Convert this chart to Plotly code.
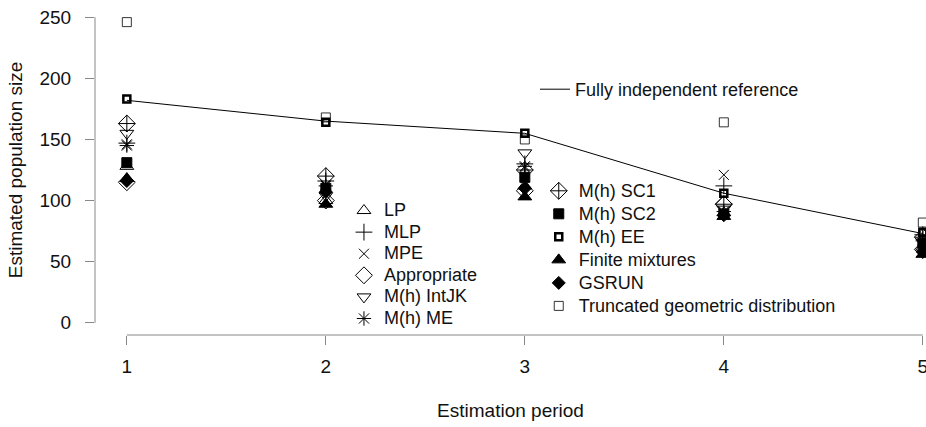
import plotly.graph_objects as go

periods = [1, 2, 3, 4, 5]
reference = [182, 165, 155, 106, 73]

lp = [128, 100, 112, 90, 62]
mlp = [147, 116, 130, 112, 72]
mpe = [146, 113, 127, 121, 68]
appropriate = [115, 100, 108, 97, 60]
intjk = [155, 104, 139, 93, 66]
me = [145, 112, 128, 91, 67]

sc1 = [163, 120, 125, 97, 70]
sc2 = [131, 110, 119, 89, 65]
ee = [183, 164, 155, 106, 74]
finite = [118, 97, 103, 87, 56]
gsrun = [116, 107, 110, 88, 58]
truncgeo = [246, 168, 150, 164, 82]

y_ticks = [0, 50, 100, 150, 200, 250]

FONT = "Liberation Sans, Arial, sans-serif"
fig = go.Figure()


def big(label):
    return "<span style='font-size:18px'>" + label + "</span>"


fig.add_trace(go.Scatter(x=periods, y=reference, mode="lines", name=big("Fully independent reference"),
                         line=dict(color="black", width=1), legend="legend", cliponaxis=False))


def pts(name, vals, symbol, size, legend, lw=1.0):
    fig.add_trace(go.Scatter(
        x=periods, y=vals, mode="markers", name=big(name), legend=legend, cliponaxis=False,
        marker=dict(symbol=symbol, size=size, color="black",
                    line=dict(color="black", width=lw))))


pts("LP", lp, "triangle-up-open", 12, "legend2")
pts("MLP", mlp, "cross-thin-open", 12, "legend2")
pts("MPE", mpe, "x-thin-open", 10, "legend2")
pts("Appropriate", appropriate, "diamond-open", 13, "legend2")
pts("M(h) IntJK", intjk, "triangle-down-open", 12, "legend2")
pts("M(h) ME", me, "asterisk-open", 12, "legend2")

pts("M(h) SC1", sc1, "diamond-cross-open", 13, "legend3")
pts("M(h) SC2", sc2, "square", 10, "legend3")
pts("M(h) EE", ee, "square-open", 7, "legend3", lw=2.5)
pts("Finite mixtures", finite, "triangle-up", 12, "legend3")
pts("GSRUN", gsrun, "diamond", 10, "legend3")
pts("Truncated geometric distribution", truncgeo, "square-open", 9, "legend3", lw=0.8)


def leg(x, y, size):
    return dict(x=x, y=y, bgcolor="rgba(0,0,0,0)", borderwidth=0, xanchor="left", yanchor="top",
                font=dict(family=FONT, size=size, color="#111"), tracegroupgap=0, itemwidth=30)


axis_col = "#888"
fig.update_layout(
    width=926, height=427,
    margin=dict(l=95, r=0, t=5, b=92, autoexpand=False),
    paper_bgcolor="white", plot_bgcolor="white",
    font=dict(family=FONT, size=19, color="#111"),
    showlegend=True,
    legend=leg(0.5295, 0.80, 18),
    legend2=leg(0.2996, 0.425, 14.3),
    legend3=leg(0.534, 0.487, 15.4),
    xaxis=dict(range=[0.84, 5.016], tickmode="array", tickvals=periods, ticktext=[str(p) for p in periods],
               showgrid=False, zeroline=False, showline=False, ticks="outside", ticklen=9,
               tickcolor=axis_col, ticklabelstandoff=5, automargin=False, ticklabeloverflow="allow",
               title=dict(text="Estimation period", standoff=27, font=dict(size=19))),
    yaxis=dict(range=[-10, 260], tickmode="array", tickvals=y_ticks, ticktext=[str(v) for v in y_ticks],
               showgrid=False, zeroline=False, showline=False, ticks="outside", ticklen=9,
               tickcolor=axis_col, ticklabelstandoff=10, automargin=False,
               title=dict(text="Estimated population size", standoff=11, font=dict(size=19))),
)

fig.add_shape(type="line", xref="paper", yref="y", x0=0, x1=0, y0=min(y_ticks), y1=max(y_ticks),
              line=dict(color=axis_col, width=1))
fig.add_shape(type="line", xref="x", yref="paper", x0=min(periods), x1=max(periods), y0=0, y1=0,
              line=dict(color=axis_col, width=1))

fig.write_html("out.html", config={"displayModeBar": False},
               post_script="document.body.style.margin='0';document.body.style.overflow='hidden';")
